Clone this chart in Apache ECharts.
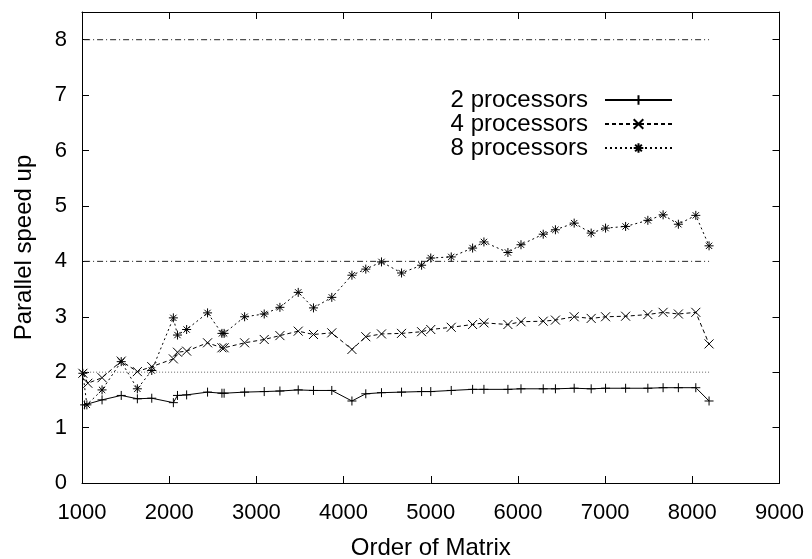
<!DOCTYPE html>
<html>
<head>
<meta charset="utf-8">
<script src="https://cdn.jsdelivr.net/npm/echarts@6/dist/echarts.min.js"></script>
<style>
html,body{margin:0;padding:0;background:#fff;}
#chart{width:812px;height:559px;}
</style>
</head>
<body>
<div id="chart"></div>
<script>
// ---- data ----
var xTicks = [1000, 2000, 3000, 4000, 5000, 6000, 7000, 8000, 9000];
var yTicks = [0, 1, 2, 3, 4, 5, 6, 7, 8];
var seriesNames = ['2 processors', '4 processors', '8 processors'];

var orders = [1230, 1450, 1635, 1800, 2048, 2095, 2200, 2440, 2605, 2630,
              2865, 3090, 3270, 3480, 3655, 3865, 4096, 4255, 4435, 4665,
              4895, 5000, 5235, 5480, 5610, 5885, 6035, 6290, 6430, 6645,
              6840, 7005, 7235, 7490, 7665, 7840, 8040, 8192];

var start2x = [1030];
var start2y = [1.41];
var speed2 = [1.50, 1.58, 1.52, 1.53, 1.45, 1.58, 1.59, 1.64, 1.62, 1.62,
              1.64, 1.65, 1.66, 1.68, 1.67, 1.67, 1.48, 1.61, 1.63, 1.64,
              1.65, 1.65, 1.67, 1.69, 1.69, 1.69, 1.70, 1.70, 1.70, 1.71,
              1.70, 1.71, 1.71, 1.71, 1.72, 1.72, 1.72, 1.48];

var start4x = [1010, 1067];
var start4y = [1.98, 1.80];
var speed4 = [1.90, 2.20, 2.01, 2.10, 2.24, 2.36, 2.38, 2.53, 2.44, 2.44,
              2.53, 2.59, 2.66, 2.74, 2.68, 2.71, 2.41, 2.64, 2.69, 2.70,
              2.73, 2.77, 2.81, 2.86, 2.89, 2.86, 2.91, 2.92, 2.94, 3.00,
              2.97, 3.00, 3.01, 3.04, 3.08, 3.05, 3.08, 2.51];

var start8x = [1010, 1056];
var start8y = [1.98, 1.41];
var speed8 = [1.68, 2.19, 1.70, 2.03, 2.98, 2.67, 2.77, 3.07, 2.70, 2.70,
              3.00, 3.05, 3.17, 3.44, 3.16, 3.35, 3.75, 3.86, 3.99, 3.79,
              3.93, 4.06, 4.08, 4.24, 4.35, 4.16, 4.30, 4.49, 4.57, 4.69,
              4.51, 4.60, 4.63, 4.74, 4.84, 4.67, 4.83, 4.28];

var refLevels = [2, 4, 8];
var refRange = [1024, 8192];

// ---- build ----
function pairs(sx, sy, xs, ys) {
  var out = [];
  for (var i = 0; i < sx.length; i++) out.push([sx[i], sy[i]]);
  for (var j = 0; j < xs.length; j++) out.push([xs[j], ys[j]]);
  return out;
}

var FONT = '"Liberation Sans", Arial, Helvetica, sans-serif';
var symPlus = 'path://M5,0L5,10M0,5L10,5';
var symCross = 'path://M0,0L10,10M10,0L0,10';
var symStar = 'path://M5,0L5,10M0,5L10,5M1.5,1.5L8.5,8.5M8.5,1.5L1.5,8.5';

function dataSeries(name, data, symbol, lineType) {
  return {
    name: name,
    type: 'line',
    data: data,
    symbol: symbol,
    symbolSize: 9,
    symbolKeepAspect: true,
    xAxisIndex: 0, yAxisIndex: 0,
    itemStyle: { color: '#000', borderColor: '#000', borderWidth: 1 },
    lineStyle: { color: '#000', width: 1, type: lineType },
    emphasis: { disabled: true },
    z: 3
  };
}

function refSeries(level, type, color) {
  return {
    type: 'line',
    data: [[refRange[0], level], [refRange[1], level]],
    symbol: 'none',
    silent: true,
    xAxisIndex: 0, yAxisIndex: 0,
    lineStyle: { color: color, width: 1, type: type },
    z: 2
  };
}

var axisCommonX = {
  type: 'value', min: xTicks[0], max: xTicks[xTicks.length - 1], interval: 1000,
  axisLine: { show: true, onZero: false, lineStyle: { color: '#000', width: 1 } },
  axisTick: { show: true, inside: true, length: 7, lineStyle: { color: '#000' } },
  splitLine: { show: false }
};
var axisCommonY = {
  type: 'value', min: yTicks[0], max: 8.5, interval: 1,
  axisLine: { show: true, onZero: false, lineStyle: { color: '#000', width: 1 } },
  axisTick: { show: true, inside: true, length: 7, lineStyle: { color: '#000' } },
  splitLine: { show: false }
};

var chart = echarts.init(document.getElementById('chart'), null, { renderer: 'canvas' });
chart.setOption({
  animation: false,
  backgroundColor: '#fff',
  grid: { left: 82, right: 32.5, top: 12, bottom: 76, containLabel: false, outerBoundsMode: 'none' },
  legend: {
    data: seriesNames,
    orient: 'vertical',
    align: 'right',
    right: 134,
    top: 83,
    itemWidth: 67,
    itemHeight: 12,
    itemGap: 0,
    selectedMode: false,
    textStyle: { fontFamily: FONT, fontSize: 24, color: '#000', lineHeight: 23, padding: [0, 12, 0, 0] }
  },
  xAxis: [
    Object.assign({}, axisCommonX, {
      position: 'bottom',
      name: 'Order of Matrix',
      nameLocation: 'middle',
      nameGap: 53,
      nameTextStyle: { fontFamily: FONT, fontSize: 24, color: '#000' },
      axisLabel: { show: true, margin: 19, fontFamily: FONT, fontSize: 22, color: '#000',
                   formatter: function (v) { return String(v); } }
    }),
    Object.assign({}, axisCommonX, {
      position: 'top',
      axisLabel: { show: false }
    })
  ],
  yAxis: [
    Object.assign({}, axisCommonY, {
      position: 'left',
      name: 'Parallel speed up',
      nameLocation: 'middle',
      nameGap: 46,
      nameTextStyle: { fontFamily: FONT, fontSize: 24, color: '#000' },
      axisLabel: { show: true, margin: 15, showMaxLabel: false, fontFamily: FONT, fontSize: 22, color: '#000',
                   formatter: function (v) { return String(v); } }
    }),
    Object.assign({}, axisCommonY, {
      position: 'right',
      axisLabel: { show: false }
    })
  ],
  series: [
    refSeries(refLevels[0], [1, 2], '#666'),
    refSeries(refLevels[1], [6, 3, 1, 3], '#222'),
    refSeries(refLevels[2], [6, 3, 1, 3], '#222'),
    dataSeries(seriesNames[0], pairs(start2x, start2y, orders, speed2), symPlus, 'solid'),
    dataSeries(seriesNames[1], pairs(start4x, start4y, orders, speed4), symCross, [4, 3]),
    dataSeries(seriesNames[2], pairs(start8x, start8y, orders, speed8), symStar, [2, 3])
  ]
});
</script>
</body>
</html>
